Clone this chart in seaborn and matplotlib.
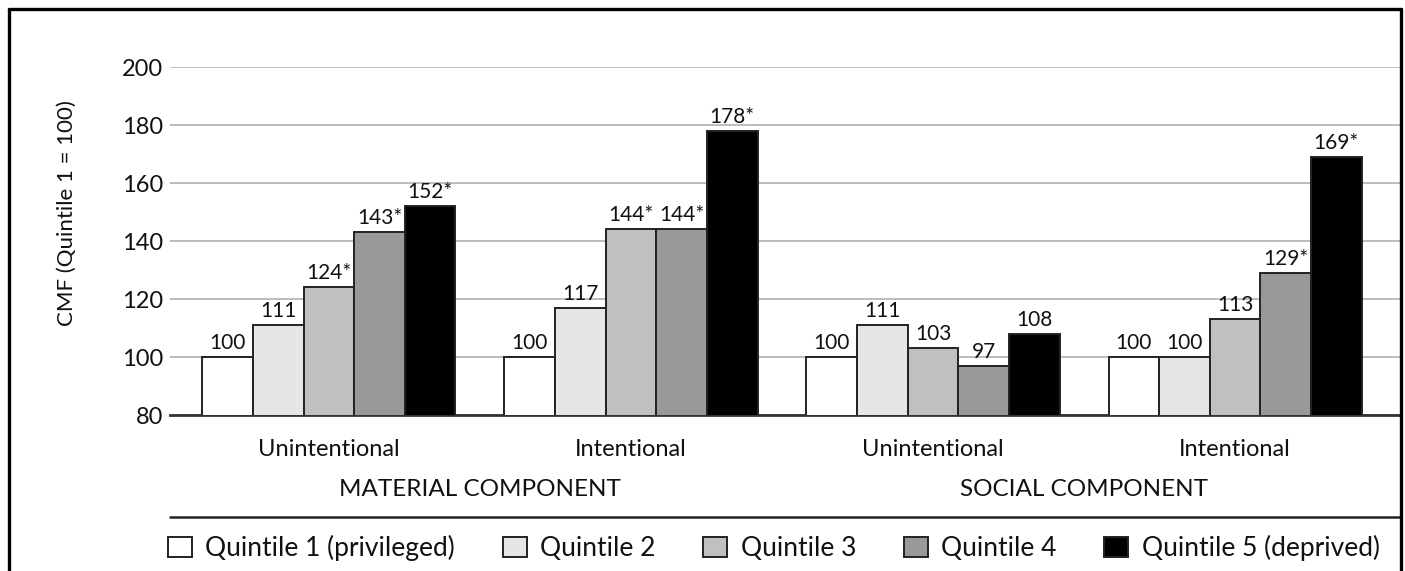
import matplotlib
matplotlib.use("Agg")
import matplotlib.pyplot as plt
from matplotlib.lines import Line2D
import seaborn as sns
import pandas as pd

# ---- data ----
categories = ["Unintentional", "Intentional", "Unintentional ", "Intentional "]
category_labels = ["Unintentional", "Intentional", "Unintentional", "Intentional"]
components = ["MATERIAL COMPONENT", "SOCIAL COMPONENT"]
quintiles = ["Quintile 1 (privileged)", "Quintile 2", "Quintile 3", "Quintile 4", "Quintile 5 (deprived)"]
q1 = [100, 100, 100, 100]
q2 = [111, 117, 111, 100]
q3 = [124, 144, 103, 113]
q4 = [143, 144, 97, 129]
q5 = [152, 178, 108, 169]
significant = [
    [False, False, False, False],
    [False, False, False, False],
    [True, True, False, False],
    [True, True, False, True],
    [True, True, False, True],
]
yticks = [80, 100, 120, 140, 160, 180, 200]
colors = ["#ffffff", "#e6e6e6", "#c0c0c0", "#999999", "#000000"]

series = [q1, q2, q3, q4, q5]
rows = []
for qi, q in enumerate(quintiles):
    for ci, c in enumerate(categories):
        rows.append({"category": c, "quintile": q, "value": series[qi][ci]})
df = pd.DataFrame(rows)

sns.set_theme(style="white")
plt.rcParams["font.family"] = ["Lato", "DejaVu Sans"]

W, H = 1405, 571
fig = plt.figure(figsize=(W / 100, H / 100), dpi=100)
ax = fig.add_axes([170 / W, 1 - 415 / H, (1400 - 170) / W, (415 - 67) / H])

sns.barplot(data=df, x="category", y="value", hue="quintile", order=categories,
            hue_order=quintiles, palette=colors, width=0.838, gap=0,
            edgecolor="#222222", linewidth=1.4, saturation=1, ax=ax, zorder=3)

ax.set_ylim(80, 200)
ax.set_xlim(-0.526, 3.546)
ax.set_yticks(yticks)
ax.yaxis.grid(True, color="#bdbdbd", linewidth=1.4, zorder=0)
ax.set_axisbelow(True)
for s in ["top", "right", "left"]:
    ax.spines[s].set_visible(False)
ax.spines["bottom"].set_color("#333333")
ax.spines["bottom"].set_linewidth(2)
ax.tick_params(axis="y", length=0, pad=5, labelsize=17, labelcolor="#111111")
ax.tick_params(axis="x", length=0, pad=17, labelsize=17, labelcolor="#111111")
ax.set_xticks(range(len(categories)))
ax.set_xticklabels(category_labels)
ax.set_xlabel("")
ax.set_ylabel("CMF (Quintile 1 = 100)", fontsize=16, color="#111111", labelpad=0)
ax.yaxis.set_label_coords((77 - 170) / (1400 - 170), 0.58)

# value labels
for qi, cont in enumerate(ax.containers):
    labs = [f"{v}*" if sig else f"{v}" for v, sig in zip(series[qi], significant[qi])]
    ax.bar_label(cont, labels=labs, padding=3, fontsize=15, color="#111111")

# component labels
ax.text(0.5, -0.215, components[0], transform=ax.get_xaxis_transform(),
        ha="center", va="center", fontsize=17.5, color="#111111")
ax.text(2.5, -0.215, components[1], transform=ax.get_xaxis_transform(),
        ha="center", va="center", fontsize=17.5, color="#111111")

# legend
handles, labels = ax.get_legend_handles_labels()
ax.get_legend().remove()
leg = fig.legend(handles, labels, loc="center left",
                 bbox_to_anchor=(168 / W, 1 - 548 / H), ncol=5, frameon=False,
                 fontsize=19, handlelength=0.92, handleheight=0.8,
                 handletextpad=0.5, columnspacing=1.8, borderpad=0,
                 borderaxespad=0)
for t in leg.get_texts():
    t.set_color("#111111")

# separator line above legend
fig.add_artist(Line2D([170 / W, 1400 / W], [1 - 517 / H, 1 - 517 / H],
                      color="#222222", linewidth=1.8))

# outer frame (left, top, right)
fig.add_artist(Line2D([9 / W, 9 / W], [0, 1 - 9 / H], color="black", linewidth=2.4))
fig.add_artist(Line2D([9 / W, 1401 / W], [1 - 9 / H, 1 - 9 / H], color="black", linewidth=2.4))
fig.add_artist(Line2D([1401 / W, 1401 / W], [0, 1 - 9 / H], color="black", linewidth=2.4))

fig.savefig("out.png", dpi=100)
